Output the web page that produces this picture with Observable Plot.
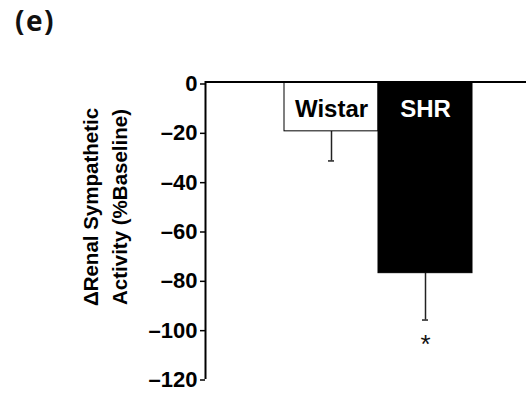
<!DOCTYPE html>
<html>
<head>
<meta charset="utf-8">
<script src="https://cdn.jsdelivr.net/npm/d3@7"></script>
<script src="https://cdn.jsdelivr.net/npm/@observablehq/plot@0.6"></script>
<style>
  html, body { margin: 0; padding: 0; background: #fff; }
  #wrap { position: relative; width: 526px; height: 396px; }
  #panel { position: absolute; left: 15px; top: 4px; font-family: "Open Sans", sans-serif; font-weight: 700; font-size: 28px; letter-spacing: 1.5px; color: #111; line-height: 1.2; }
  svg { display: block; }
</style>
</head>
<body>
<div id="wrap">
  <div id="panel">(e)</div>
</div>
<script>
const groups = ["Wistar", "SHR"];
const means = [-20, -77.5];
const errors = [12, 19];
const fills = ["#ffffff", "#000000"];
const labelColors = ["#000000", "#ffffff"];
const significance = ["", "*"];
const yTicks = [0, -20, -40, -60, -80, -100, -120];
const yLabel = "\u0394Renal Sympathetic\nActivity (%Baseline)";

const data = groups.map((g, i) => ({
  group: g, mean: means[i], low: means[i] - errors[i],
  fill: fills[i], labelColor: labelColors[i], sig: significance[i]
}));

const font = "Liberation Sans, Arial, sans-serif";

const chart = Plot.plot({
  width: 526,
  height: 396,
  marginLeft: 205,
  marginRight: 0,
  marginTop: 81.5,
  marginBottom: 18.5,
  style: { fontFamily: font, background: "#fff" },
  x: { type: "band", domain: groups, range: [283.5, 472], padding: 0, axis: null },
  y: { domain: [-120, 0], axis: null },
  marks: [
    Plot.ruleX(data, { x: "group", y1: "mean", y2: "low", stroke: "#222", strokeWidth: 1.5 }),
    Plot.tickY(data, { x: "group", y: "low", stroke: "#222", strokeWidth: 1.5, insetLeft: 44, insetRight: 44 }),
    Plot.barY(data, { x: "group", y: "mean", fill: "fill", stroke: "#000", strokeWidth: 1 }),
    Plot.text(data, { x: "group", y: () => 0, text: "group", fill: "labelColor", fontSize: 24, fontWeight: "bold", dy: 27 }),
    Plot.text(data, { x: "group", y: "low", text: "sig", fill: "#111", fontSize: 26, dy: 25 }),
    Plot.ruleY([0], { stroke: "#000", strokeWidth: 2 }),
    Plot.frame({ anchor: "left", stroke: "#000", strokeWidth: 2 }),
    Plot.axisY(yTicks, { tickSize: 5, tickPadding: 3, fontSize: 22, fontWeight: "bold", label: null, stroke: "#000", strokeWidth: 1.5, fill: "#000", dy: 2, tickFormat: d => String(d).replace("-", "\u2013") }),
    Plot.text([yLabel], { frameAnchor: "left", text: d => d, rotate: -90, dx: -102, dy: -23, fontSize: 20.5, fontWeight: "bold", lineHeight: 1.4, textAnchor: "middle", fill: "#000" })
  ]
});
document.getElementById("wrap").appendChild(chart);
</script>
</body>
</html>
